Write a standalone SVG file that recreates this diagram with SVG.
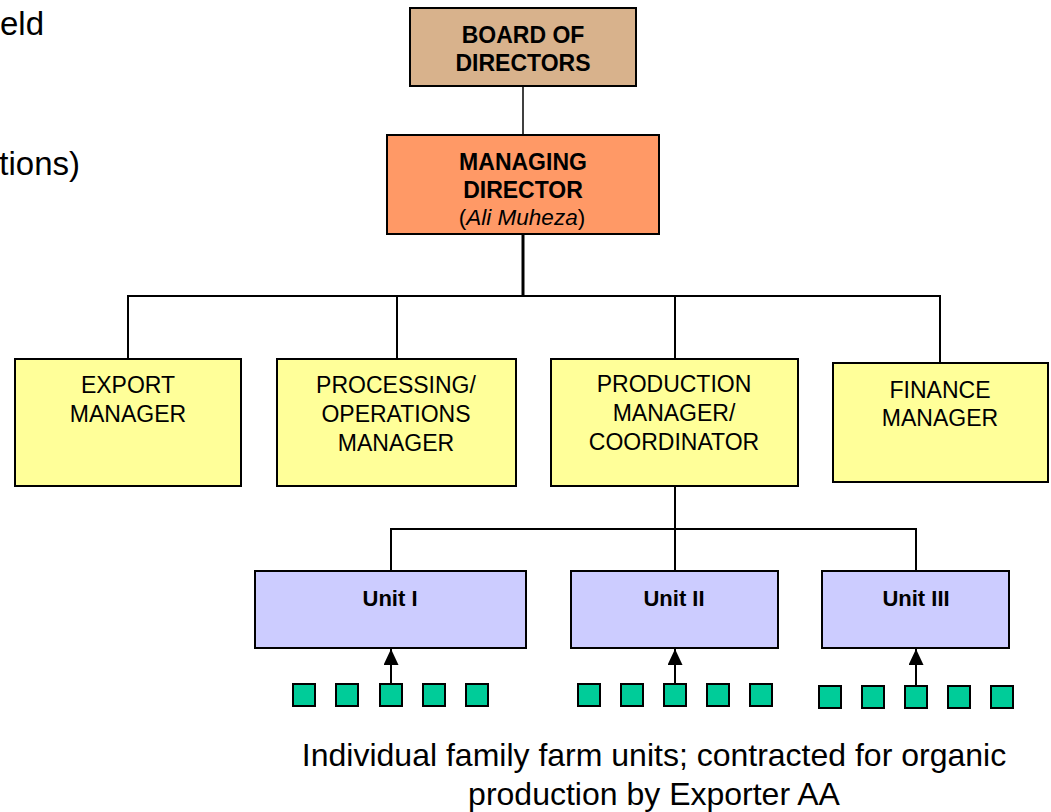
<svg xmlns="http://www.w3.org/2000/svg" width="1051" height="812" viewBox="0 0 1051 812">
<style>
text{font-family:"Liberation Sans",Arial,sans-serif;fill:#000}
.b{font-weight:bold;font-size:23px}
.r{font-size:23px}
.box{stroke:#000;stroke-width:2}
.ln{stroke:#000;stroke-width:2;fill:none}
.sq{fill:#00CC99;stroke:#000;stroke-width:2}
.cap{font-size:32px}
</style>
<defs>
<marker id="ah" viewBox="0 0 16 15" refX="16" refY="7.5" markerWidth="16" markerHeight="15" markerUnits="userSpaceOnUse" orient="auto">
<path d="M0,0 L16,7.5 L0,15 Z" fill="#000"/>
</marker>
</defs>
<rect width="1051" height="812" fill="#fff"/>
<text x="44" y="35" text-anchor="end" style="font-size:33px">eld</text>
<text x="80" y="175" text-anchor="end" style="font-size:33px">tions)</text>

<g id="connectors">
<line class="ln" x1="523" y1="86" x2="523" y2="135" style="stroke-width:1.5"/>
<line class="ln" x1="523" y1="234" x2="523" y2="296" style="stroke-width:3"/>
<polyline class="ln" points="128,359 128,296 940,296 940,363"/>
<line class="ln" x1="397" y1="296" x2="397" y2="359"/>
<line class="ln" x1="675" y1="296" x2="675" y2="359"/>
<line class="ln" x1="675" y1="486" x2="675" y2="529"/>
<polyline class="ln" points="391,571 391,529 916,529 916,571"/>
<line class="ln" x1="675" y1="529" x2="675" y2="571"/>
<line class="ln" x1="391" y1="683" x2="391" y2="649" marker-end="url(#ah)"/>
<line class="ln" x1="675" y1="683" x2="675" y2="649" marker-end="url(#ah)"/>
<line class="ln" x1="916" y1="685" x2="916" y2="649" marker-end="url(#ah)"/>
</g>

<g id="board">
<rect class="box" x="410" y="8" width="226" height="78" fill="#D8B28C"/>
<text class="b" x="523" y="43" text-anchor="middle">BOARD OF</text>
<text class="b" x="523" y="71" text-anchor="middle">DIRECTORS</text>
</g>
<g id="md">
<rect class="box" x="387" y="135" width="272" height="99" fill="#FF9966"/>
<text class="b" x="523" y="170" text-anchor="middle">MANAGING</text>
<text class="b" x="523" y="198" text-anchor="middle">DIRECTOR</text>
<text x="522" y="225" text-anchor="middle" style="font-size:22.5px">(<tspan font-style="italic">Ali Muheza</tspan>)</text>
</g>
<g id="export">
<rect class="box" x="15" y="359" width="226" height="127" fill="#FFFF99"/>
<text class="r" x="128" y="393" text-anchor="middle">EXPORT</text>
<text class="r" x="128" y="422" text-anchor="middle">MANAGER</text>
</g>
<g id="processing">
<rect class="box" x="277" y="359" width="239" height="127" fill="#FFFF99"/>
<text class="r" x="396" y="393" text-anchor="middle">PROCESSING/</text>
<text class="r" x="396" y="422" text-anchor="middle">OPERATIONS</text>
<text class="r" x="396" y="451" text-anchor="middle">MANAGER</text>
</g>
<g id="production">
<rect class="box" x="551" y="359" width="247" height="127" fill="#FFFF99"/>
<text class="r" x="674" y="392" text-anchor="middle">PRODUCTION</text>
<text class="r" x="674" y="421" text-anchor="middle">MANAGER/</text>
<text class="r" x="674" y="450" text-anchor="middle">COORDINATOR</text>
</g>
<g id="finance">
<rect class="box" x="833" y="363" width="215" height="119" fill="#FFFF99"/>
<text class="r" x="940" y="398" text-anchor="middle">FINANCE</text>
<text class="r" x="940" y="426" text-anchor="middle">MANAGER</text>
</g>
<g id="unit1">
<rect class="box" x="255" y="571" width="271" height="77" fill="#CCCCFF"/>
<text class="b" x="390" y="606" text-anchor="middle" style="font-size:22px">Unit I</text>
</g>
<g id="unit2">
<rect class="box" x="571" y="571" width="207" height="77" fill="#CCCCFF"/>
<text class="b" x="674" y="606" text-anchor="middle" style="font-size:22px">Unit II</text>
</g>
<g id="unit3">
<rect class="box" x="822" y="571" width="187" height="77" fill="#CCCCFF"/>
<text class="b" x="916" y="606" text-anchor="middle" style="font-size:22px">Unit III</text>
</g>
<g id="farms1">
<rect class="sq" x="293" y="684" width="22" height="22"/>
<rect class="sq" x="336" y="684" width="22" height="22"/>
<rect class="sq" x="380" y="684" width="22" height="22"/>
<rect class="sq" x="423" y="684" width="22" height="22"/>
<rect class="sq" x="466" y="684" width="22" height="22"/>
</g>
<g id="farms2">
<rect class="sq" x="578" y="684" width="22" height="22"/>
<rect class="sq" x="621" y="684" width="22" height="22"/>
<rect class="sq" x="664" y="684" width="22" height="22"/>
<rect class="sq" x="707" y="684" width="22" height="22"/>
<rect class="sq" x="750" y="684" width="22" height="22"/>
</g>
<g id="farms3">
<rect class="sq" x="819" y="686" width="22" height="22"/>
<rect class="sq" x="862" y="686" width="22" height="22"/>
<rect class="sq" x="905" y="686" width="22" height="22"/>
<rect class="sq" x="948" y="686" width="22" height="22"/>
<rect class="sq" x="991" y="686" width="22" height="22"/>
</g>
<g id="caption">
<text class="cap" x="654" y="766" text-anchor="middle">Individual family farm units; contracted for organic</text>
<text class="cap" x="654" y="805" text-anchor="middle">production by Exporter AA</text>
</g>
</svg>
